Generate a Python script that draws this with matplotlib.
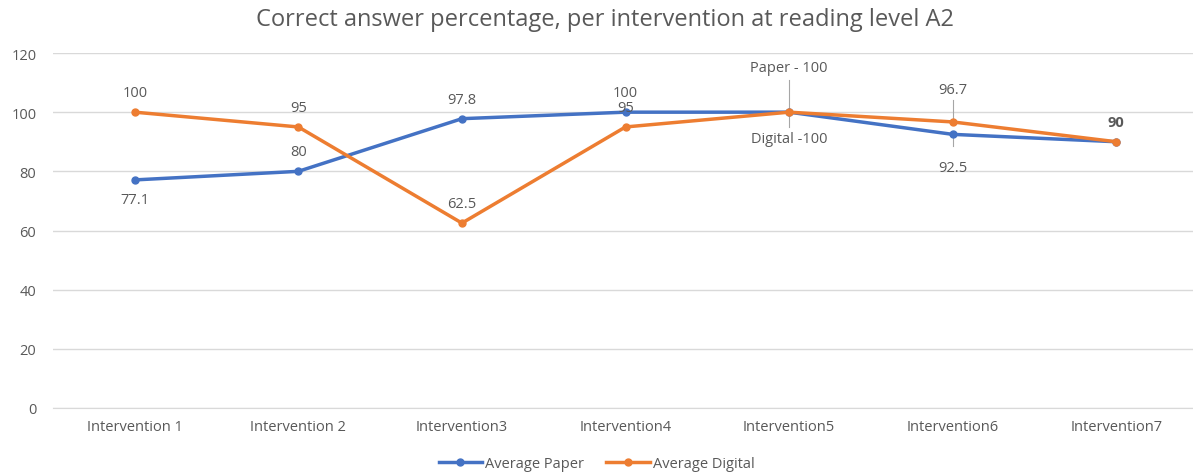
import numpy as np
import matplotlib.pyplot as plt

plt.rcParams['font.family'] = ['Open Sans', 'DejaVu Sans']

categories = ["Intervention 1", "Intervention 2", "Intervention3", "Intervention4",
              "Intervention5", "Intervention6", "Intervention7"]
paper = [77.1, 80, 97.8, 100, 100, 92.5, 90]
digital = [100, 95, 62.5, 95, 100, 96.7, 90]
paper_labels = ["77.1", "80", "97.8", "100", "Paper - 100", "92.5", "90"]
digital_labels = ["100", "95", "62.5", "95", "Digital -100", "96.7", "90"]

blue = "#4472C4"
orange = "#ED7D31"
grey = "#595959"

fig = plt.figure(figsize=(11.93, 4.77), dpi=100)
ax = fig.add_axes([53 / 1193, 1 - 409 / 477, 1145 / 1193, 355 / 477])

x = np.arange(len(categories))
ax.plot(x, paper, color=blue, lw=2.5, marker='o', ms=5, label="Average Paper", zorder=3)
ax.plot(x, digital, color=orange, lw=2.5, marker='o', ms=5, label="Average Digital", zorder=4)

ax.set_xlim(-0.5, len(categories) - 0.5)
ax.set_ylim(0, 120)
ax.set_yticks(range(0, 121, 20))
ax.set_xticks(x)
ax.set_xticklabels(categories)
ax.grid(axis='y', color='#D9D9D9', lw=1)
ax.set_axisbelow(True)
for s in ax.spines.values():
    s.set_visible(False)
ax.spines['bottom'].set_visible(True)
ax.spines['bottom'].set_color('#D9D9D9')
ax.tick_params(length=0, colors=grey, labelsize=10.5)
ax.tick_params(axis='x', pad=8)
ax.tick_params(axis='y', pad=12)

# data labels: offsets in points (dy), leader lines where Excel moved them
paper_dy = [-14, 14, 14, 14, 32, -24, 14]
digital_dy = [14, 14, 14, 14, -19, 23, 14]
for i in range(len(categories)):
    if i != 6:
        ax.annotate(paper_labels[i], (x[i], paper[i]), xytext=(0, paper_dy[i]),
                    textcoords='offset points', ha='center', va='center',
                    fontsize=10.5, color=grey)
    ax.annotate(digital_labels[i], (x[i], digital[i]), xytext=(0, digital_dy[i]),
                textcoords='offset points', ha='center', va='center',
                fontsize=10.5, color=grey,
                fontweight='bold' if i == 6 else 'normal')

# leader lines
ax.plot([4, 4], [100, 111], color='#A6A6A6', lw=0.8, zorder=2)
ax.plot([4, 4], [100, 95], color='#A6A6A6', lw=0.8, zorder=2)
ax.plot([5, 5], [96.7, 104], color='#A6A6A6', lw=0.8, zorder=2)
ax.plot([5, 5], [92.5, 88.5], color='#A6A6A6', lw=0.8, zorder=2)

fig.text(605 / 1193, 1 - 20 / 477, "Correct answer percentage, per intervention at reading level A2",
         ha='center', va='center', fontsize=17, color=grey)

fig.legend(loc='center', bbox_to_anchor=(0.5, 1 - 465 / 477), ncol=2, frameon=False,
           fontsize=10.5, labelcolor=grey, handlelength=3, handletextpad=0.2,
           columnspacing=1.5)

fig.savefig("out.png", dpi=100)
